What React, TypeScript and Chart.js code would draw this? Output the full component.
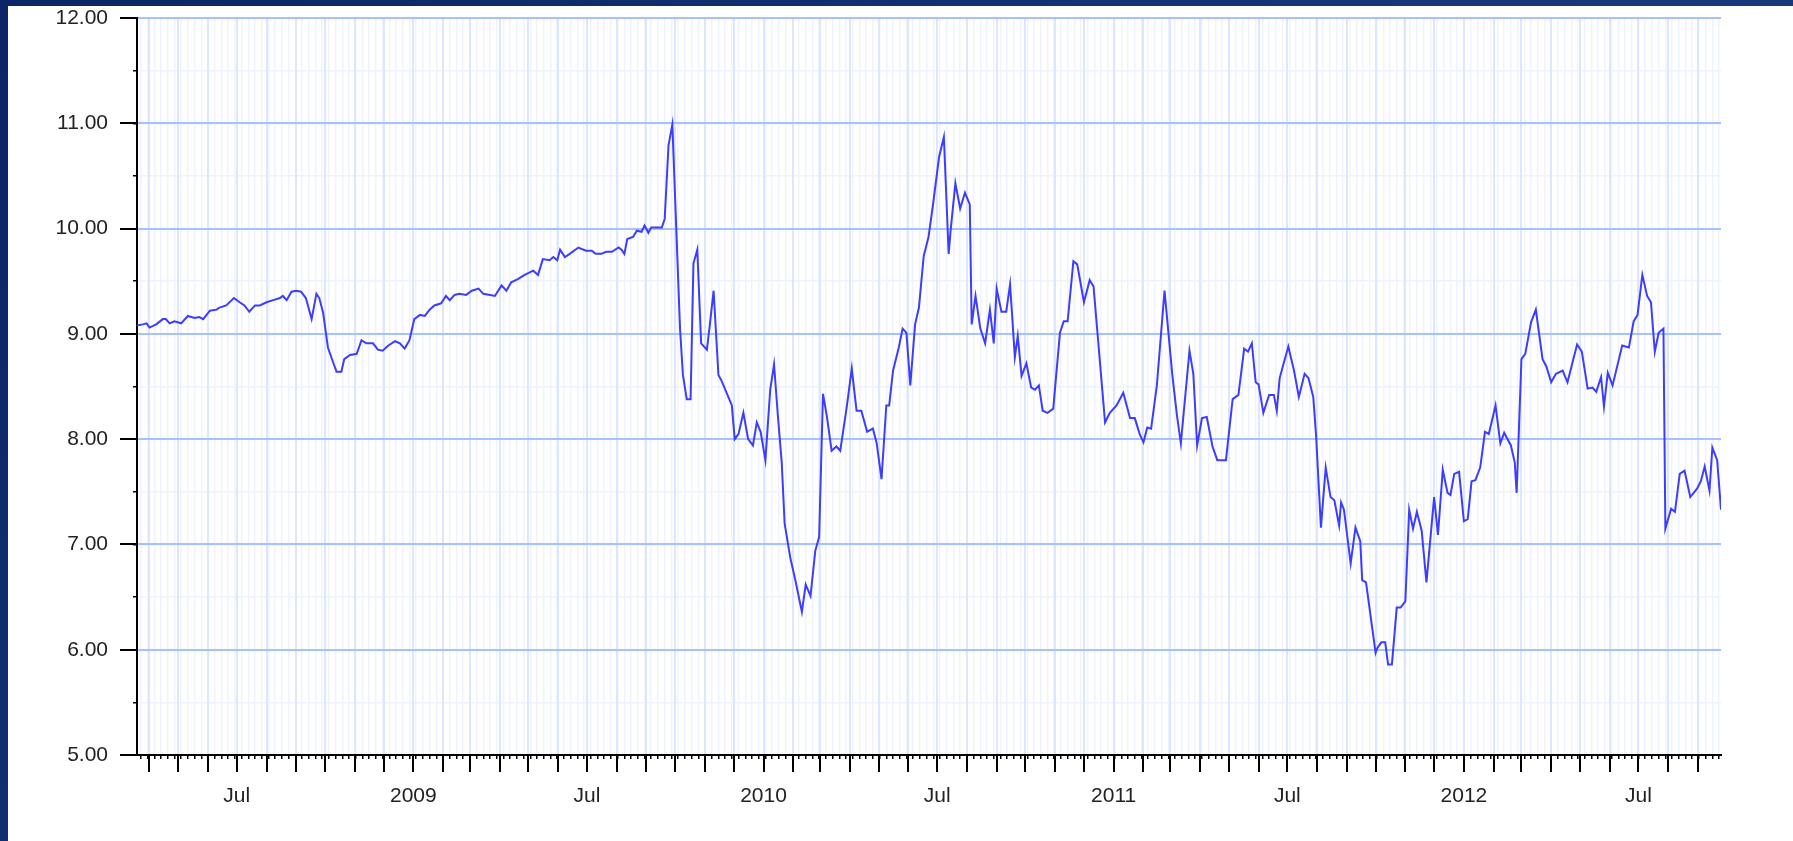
import React, { useEffect, useRef } from "react";
import { Chart, registerables } from "chart.js";

Chart.register(...registerables);

// Observation dates, as days since 2008-01-01 (UTC)
const DAYS: number[] = [
  78, 84, 88, 91, 98, 105, 108, 112, 117, 124, 131, 138, 143, 147, 154, 161, 164, 171, 179, 185,
  190, 195, 201, 206, 213, 220, 227, 230, 234, 239, 244, 249, 254, 260, 265, 268, 272, 277, 282, 286,
  291, 294, 300, 307, 312, 317, 324, 329, 334, 340, 347, 352, 357, 362, 367, 373, 378, 383, 388, 395,
  400, 404, 409, 414, 421, 427, 434, 439, 446, 451, 458, 463, 468, 475, 482, 491, 496, 501, 508, 512,
  516, 519, 524, 529, 538, 546, 552, 556, 562, 567, 573, 580, 583, 586, 589, 595, 599, 604, 607, 611,
  614, 625, 628, 632, 636, 644, 647, 651, 655, 658, 662, 666, 672, 675, 679, 684, 687, 693, 698, 701,
  705, 710, 715, 720, 724, 728, 733, 738, 742, 746, 750, 753, 759, 764, 771, 775, 780, 785, 789, 793,
  797, 802, 807, 811, 818, 823, 828, 833, 839, 845, 849, 854, 859, 862, 866, 872, 876, 880, 884, 889,
  893, 898, 903, 908, 914, 919, 924, 926, 931, 936, 941, 946, 948, 952, 957, 962, 967, 971, 974, 979,
  984, 988, 993, 996, 1000, 1005, 1010, 1014, 1018, 1022, 1027, 1033, 1040, 1044, 1048, 1054, 1058, 1065, 1071, 1075,
  1087, 1092, 1099, 1106, 1113, 1118, 1123, 1127, 1131, 1135, 1141, 1149, 1157, 1162, 1166, 1175, 1179, 1183, 1188, 1193,
  1199, 1204, 1213, 1220, 1226, 1232, 1236, 1240, 1244, 1247, 1252, 1258, 1263, 1266, 1269, 1278, 1284, 1289, 1295, 1299,
  1304, 1307, 1312, 1317, 1322, 1326, 1331, 1333, 1336, 1343, 1348, 1353, 1355, 1359, 1369, 1371, 1375, 1379, 1382, 1386,
  1391, 1395, 1400, 1404, 1408, 1412, 1417, 1422, 1430, 1434, 1439, 1444, 1447, 1451, 1456, 1461, 1465, 1469, 1473, 1478,
  1483, 1487, 1494, 1499, 1503, 1510, 1514, 1516, 1521, 1525, 1531, 1536, 1543, 1547, 1552, 1557, 1564, 1569, 1579, 1584,
  1590, 1595, 1599, 1604, 1607, 1611, 1616, 1626, 1633, 1638, 1642, 1647, 1652, 1656, 1660, 1664, 1669, 1671, 1677, 1681,
  1686, 1691, 1697, 1704, 1708, 1712, 1717, 1720, 1725, 1729,
];

const VALUES: number[] = [
  9.08, 9.09, 9.1, 9.06, 9.09, 9.14, 9.14, 9.1, 9.12, 9.1, 9.17, 9.15, 9.16, 9.14, 9.22, 9.23, 9.25, 9.27, 9.34, 9.3,
  9.27, 9.21, 9.27, 9.27, 9.3, 9.32, 9.34, 9.36, 9.32, 9.4, 9.41, 9.4, 9.34, 9.14, 9.38, 9.34, 9.2, 8.87, 8.74, 8.64,
  8.64, 8.76, 8.8, 8.81, 8.94, 8.91, 8.91, 8.85, 8.84, 8.89, 8.93, 8.91, 8.86, 8.94, 9.14, 9.18, 9.17, 9.23, 9.27, 9.29,
  9.36, 9.32, 9.37, 9.38, 9.37, 9.41, 9.43, 9.38, 9.37, 9.36, 9.46, 9.41, 9.49, 9.52, 9.56, 9.6, 9.56, 9.71, 9.7, 9.73,
  9.7, 9.8, 9.73, 9.76, 9.82, 9.79, 9.79, 9.76, 9.76, 9.78, 9.78, 9.82, 9.8, 9.76, 9.9, 9.92, 9.98, 9.97, 10.03, 9.96,
  10.01, 10.01, 10.09, 10.79, 10.99, 9.05, 8.61, 8.38, 8.38, 9.67, 9.8, 8.91, 8.85, 9.08, 9.41, 8.61, 8.56, 8.43, 8.32, 8.0,
  8.05, 8.25, 8.0, 7.94, 8.16, 8.07, 7.8, 8.47, 8.71, 8.22, 7.78, 7.2, 6.87, 6.67, 6.36, 6.62, 6.51, 6.94, 7.07, 8.43,
  8.22, 7.89, 7.93, 7.89, 8.32, 8.67, 8.27, 8.27, 8.07, 8.1, 7.96, 7.62, 8.32, 8.32, 8.65, 8.87, 9.05, 9.01, 8.51, 9.09,
  9.25, 9.74, 9.92, 10.25, 10.68, 10.87, 9.76, 9.98, 10.43, 10.19, 10.34, 10.23, 9.09, 9.36, 9.05, 8.91, 9.23, 8.91, 9.43, 9.21,
  9.21, 9.47, 8.78, 8.98, 8.6, 8.72, 8.49, 8.47, 8.51, 8.27, 8.25, 8.29, 9.01, 9.12, 9.12, 9.69, 9.66, 9.3, 9.51, 9.45,
  8.16, 8.25, 8.32, 8.44, 8.2, 8.2, 8.05, 7.97, 8.11, 8.1, 8.51, 9.41, 8.62, 8.22, 7.96, 8.84, 8.62, 7.94, 8.2, 8.21,
  7.93, 7.8, 7.8, 8.38, 8.42, 8.86, 8.83, 8.91, 8.54, 8.52, 8.25, 8.42, 8.42, 8.27, 8.58, 8.88, 8.65, 8.4, 8.62, 8.58,
  8.4, 8.03, 7.16, 7.73, 7.45, 7.42, 7.18, 7.4, 7.33, 6.82, 7.16, 7.03, 6.66, 6.64, 5.97, 6.02, 6.07, 6.07, 5.86, 5.86,
  6.4, 6.4, 6.46, 7.33, 7.15, 7.31, 7.13, 6.64, 7.45, 7.09, 7.71, 7.49, 7.47, 7.67, 7.69, 7.22, 7.24, 7.6, 7.61, 7.73,
  8.07, 8.05, 8.32, 7.96, 8.06, 7.94, 7.78, 7.49, 8.76, 8.81, 9.11, 9.23, 8.76, 8.69, 8.54, 8.62, 8.65, 8.54, 8.9, 8.83,
  8.48, 8.49, 8.45, 8.59, 8.31, 8.63, 8.51, 8.89, 8.87, 9.12, 9.18, 9.56, 9.36, 9.3, 8.83, 9.01, 9.05, 7.15, 7.34, 7.31,
  7.67, 7.7, 7.45, 7.53, 7.6, 7.74, 7.51, 7.92, 7.8, 7.33,
];

const Y_MIN = 5;
const Y_MAX = 12;
const Y_STEP = 1;
const Y_MINOR_STEP = 0.5;
const MID_YEAR_LABEL = "Jul";

const EPOCH = Date.UTC(2008, 0, 1);
const MS_DAY = 86400000;
const dayOf = (y: number, m: number, d: number) => Math.round((Date.UTC(y, m, d) - EPOCH) / MS_DAY);

const X_MIN = DAYS[0];
const X_MAX = DAYS[DAYS.length - 1];

function monthStarts(): number[] {
  const out: number[] = [];
  for (let y = 2008; y <= 2013; y++) {
    for (let m = 0; m < 12; m++) {
      const d = dayOf(y, m, 1);
      if (d >= X_MIN && d <= X_MAX) out.push(d);
    }
  }
  return out;
}

function weekStarts(): number[] {
  const out: number[] = [];
  for (let d = dayOf(2008, 0, 6); d <= X_MAX; d += 7) {
    if (d >= X_MIN) out.push(d);
  }
  return out;
}

const FONT = { family: "'Liberation Sans', Arial, Helvetica, sans-serif", size: 21 };
const TEXT = "#222222";

export default function App() {
  const ref = useRef<HTMLCanvasElement | null>(null);

  useEffect(() => {
    if (!ref.current) return;
    const chart = new Chart(ref.current, {
      type: "line",
      data: {
        datasets: [
          {
            data: DAYS.map((d, i) => ({ x: d, y: VALUES[i] })),
            borderColor: "#3d3dff",
            borderWidth: 2,
            pointRadius: 0,
            tension: 0,
            fill: false,
          },
        ],
      },
      options: {
        responsive: false,
        animation: false,
        events: [],
        layout: { padding: { left: 0, top: 12, right: 72, bottom: 0 } },
        plugins: {
          legend: { display: false },
          tooltip: { enabled: false },
          title: { display: false },
        },
        scales: {
          xw: {
            type: "linear",
            axis: "x",
            position: { y: Y_MIN },
            min: X_MIN,
            max: X_MAX,
            afterBuildTicks: (s: any) => {
              s.ticks = weekStarts().map((v) => ({ value: v }));
            },
            ticks: { display: false },
            grid: { color: "#eef3ff", lineWidth: 1.5, tickLength: 4, tickColor: "#000", tickWidth: 1.5, z: -3 },
            border: { display: false },
          },
          ym: {
            type: "linear",
            axis: "y",
            position: { x: X_MIN },
            min: Y_MIN,
            max: Y_MAX,
            ticks: { display: false, stepSize: Y_MINOR_STEP },
            grid: { color: "#eef2fe", lineWidth: 1.5, tickLength: 4, tickColor: "#000", tickWidth: 1.5, z: -3 },
            border: { display: false },
          },
          x: {
            type: "linear",
            position: "bottom",
            min: X_MIN,
            max: X_MAX,
            afterBuildTicks: (s: any) => {
              s.ticks = monthStarts().map((v) => ({ value: v }));
            },
            afterFit: (s: any) => {
              s.height = 86;
              s.paddingLeft = 0;
              s.paddingRight = 0;
            },
            ticks: {
              autoSkip: false,
              maxRotation: 0,
              minRotation: 0,
              padding: 12,
              font: FONT,
              color: TEXT,
              callback: (v: any) => {
                const dt = new Date(EPOCH + Number(v) * MS_DAY);
                const m = dt.getUTCMonth();
                if (m === 0) return String(dt.getUTCFullYear());
                if (m === 6) return MID_YEAR_LABEL;
                return "";
              },
            },
            grid: { color: "#dce6ff", lineWidth: 2, tickLength: 17, tickColor: "#000", tickWidth: 2, z: -2 },
            border: { color: "#000", width: 2 },
          },
          y: {
            type: "linear",
            position: "left",
            min: Y_MIN,
            max: Y_MAX,
            afterFit: (s: any) => {
              s.width = 129;
              s.paddingTop = 0;
              s.paddingBottom = 0;
            },
            ticks: {
              stepSize: Y_STEP,
              padding: 12,
              font: FONT,
              color: TEXT,
              callback: (v: any) => Number(v).toFixed(2),
            },
            grid: { color: "#a6c1ff", lineWidth: 2, tickLength: 17, tickColor: "#000", tickWidth: 2, z: -1 },
            border: { color: "#000", width: 2 },
          },
        },
      } as any,
    });
    return () => chart.destroy();
  }, []);

  return (
    <div
      style={{
        position: "fixed",
        left: 0,
        top: 0,
        width: 1793,
        height: 841,
        background: "linear-gradient(135deg, #0b2566 0%, #163879 60%, #1a3d80 100%)",
        overflow: "hidden",
      }}
    >
      <div style={{ position: "absolute", left: 8, top: 6, width: 1785, height: 835, background: "#ffffff" }}>
        <canvas ref={ref} width={1785} height={835} style={{ width: 1785, height: 835, display: "block" }} />
      </div>
    </div>
  );
}
